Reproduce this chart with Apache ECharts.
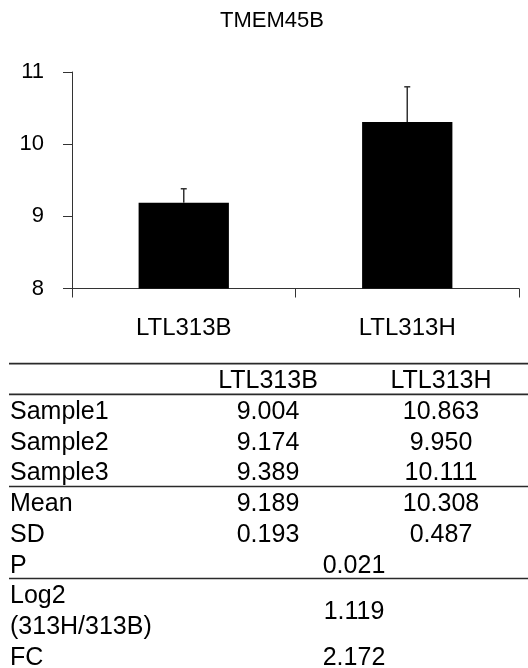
<!DOCTYPE html>
<html>
<head>
<meta charset="utf-8">
<script src="https://cdn.jsdelivr.net/npm/echarts@6/dist/echarts.min.js"></script>
<style>
html,body{margin:0;padding:0;background:#fff;}
#chart{width:528px;height:668px;}
</style>
</head>
<body>
<div id="chart"></div>
<script>
// ---- data ----
const chartTitle = 'TMEM45B';
const categories = ['LTL313B', 'LTL313H'];
const sampleLabels = ['Sample1', 'Sample2', 'Sample3'];
const valuesB = [9.004, 9.174, 9.389];
const valuesH = [10.863, 9.950, 10.111];
const meanValues = [9.189, 10.308];
const sdValues = [0.193, 0.487];
const pValue = 0.021;
const log2Ratio = 1.119;
const foldChange = 2.172;
const yTicks = [8, 9, 10, 11];

// ---- layout constants ----
const FONT = '"Liberation Sans", Arial, sans-serif';
const rowY0 = 381.5, rowH = 30.7;
const labelX = 10, col1X = 268, col2X = 441, mergedX = 354;
const ruleX0 = 9, ruleX1 = 528;

function rowY(i) { return rowY0 + rowH * i; }
function ruleY(k) { return rowY0 + rowH * (k + 0.5) - 2.5; }

const graphics = [];
function txt(s, x, y, align) {
  graphics.push({
    type: 'text', x: x, y: y, silent: true,
    style: { text: s, font: '25px ' + FONT, fill: '#000', align: align, verticalAlign: 'middle' }
  });
}
function rule(k) {
  graphics.push({
    type: 'line', silent: true,
    shape: { x1: ruleX0, y1: ruleY(k), x2: ruleX1, y2: ruleY(k) },
    style: { stroke: '#2a2a2a', lineWidth: 1.6 }
  });
}
// header
txt(categories[0], col1X, rowY(0), 'center');
txt(categories[1], col2X, rowY(0), 'center');
// samples
sampleLabels.forEach((s, i) => {
  txt(s, labelX, rowY(1 + i), 'left');
  txt(valuesB[i].toFixed(3), col1X, rowY(1 + i), 'center');
  txt(valuesH[i].toFixed(3), col2X, rowY(1 + i), 'center');
});
txt('Mean', labelX, rowY(4), 'left');
txt(meanValues[0].toFixed(3), col1X, rowY(4), 'center');
txt(meanValues[1].toFixed(3), col2X, rowY(4), 'center');
txt('SD', labelX, rowY(5), 'left');
txt(sdValues[0].toFixed(3), col1X, rowY(5), 'center');
txt(sdValues[1].toFixed(3), col2X, rowY(5), 'center');
txt('P', labelX, rowY(6), 'left');
txt(pValue.toFixed(3), mergedX, rowY(6), 'center');
txt('Log2', labelX, rowY(7), 'left');
txt('(313H/313B)', labelX, rowY(8), 'left');
txt(log2Ratio.toFixed(3), mergedX, (rowY(7) + rowY(8)) / 2, 'center');
txt('FC', labelX, rowY(9), 'left');
txt(foldChange.toFixed(3), mergedX, rowY(9), 'center');
[-1, 0, 3, 6].forEach(rule);

const chart = echarts.init(document.getElementById('chart'), null, { renderer: 'canvas' });
const axisColor = '#333';
chart.setOption({
  animation: false,
  backgroundColor: '#fff',
  title: {
    text: chartTitle, left: 220, top: 10, padding: 0,
    textStyle: { fontFamily: FONT, fontSize: 22, fontWeight: 'normal', color: '#000' }
  },
  grid: { left: 72, right: 9, top: 72, bottom: 379.5, containLabel: false },
  xAxis: {
    type: 'category', data: categories, boundaryGap: true,
    axisLine: { show: true, lineStyle: { color: axisColor, width: 1 } },
    axisTick: { show: true, inside: false, length: 9, alignWithLabel: false, lineStyle: { color: axisColor } },
    axisLabel: { fontFamily: FONT, fontSize: 24, color: '#000', margin: 28 },
    splitLine: { show: false }
  },
  yAxis: {
    type: 'value', min: yTicks[0], max: yTicks[yTicks.length - 1], interval: 1,
    axisLine: { show: true, lineStyle: { color: axisColor, width: 1 } },
    axisTick: { show: true, inside: false, length: 9, lineStyle: { color: axisColor } },
    axisLabel: { fontFamily: FONT, fontSize: 22, color: '#000', margin: 28 },
    splitLine: { show: false }
  },
  series: [
    {
      type: 'bar', data: meanValues, barWidth: '40.4%',
      itemStyle: { color: '#000' }, silent: true
    },
    {
      type: 'custom', silent: true, z: 3,
      data: meanValues.map((m, i) => [i, m, m + sdValues[i]]),
      renderItem: function (params, api) {
        const base = api.coord([api.value(0), api.value(1)]);
        const top = api.coord([api.value(0), api.value(2)]);
        const capHalf = 3;
        return {
          type: 'group',
          children: [
            { type: 'line', shape: { x1: base[0], y1: base[1], x2: top[0], y2: top[1] },
              style: { stroke: '#333', lineWidth: 1.5 } },
            { type: 'line', shape: { x1: top[0] - capHalf, y1: top[1], x2: top[0] + capHalf, y2: top[1] },
              style: { stroke: '#333', lineWidth: 1.5 } }
          ]
        };
      }
    }
  ],
  graphic: graphics
});
</script>
</body>
</html>
